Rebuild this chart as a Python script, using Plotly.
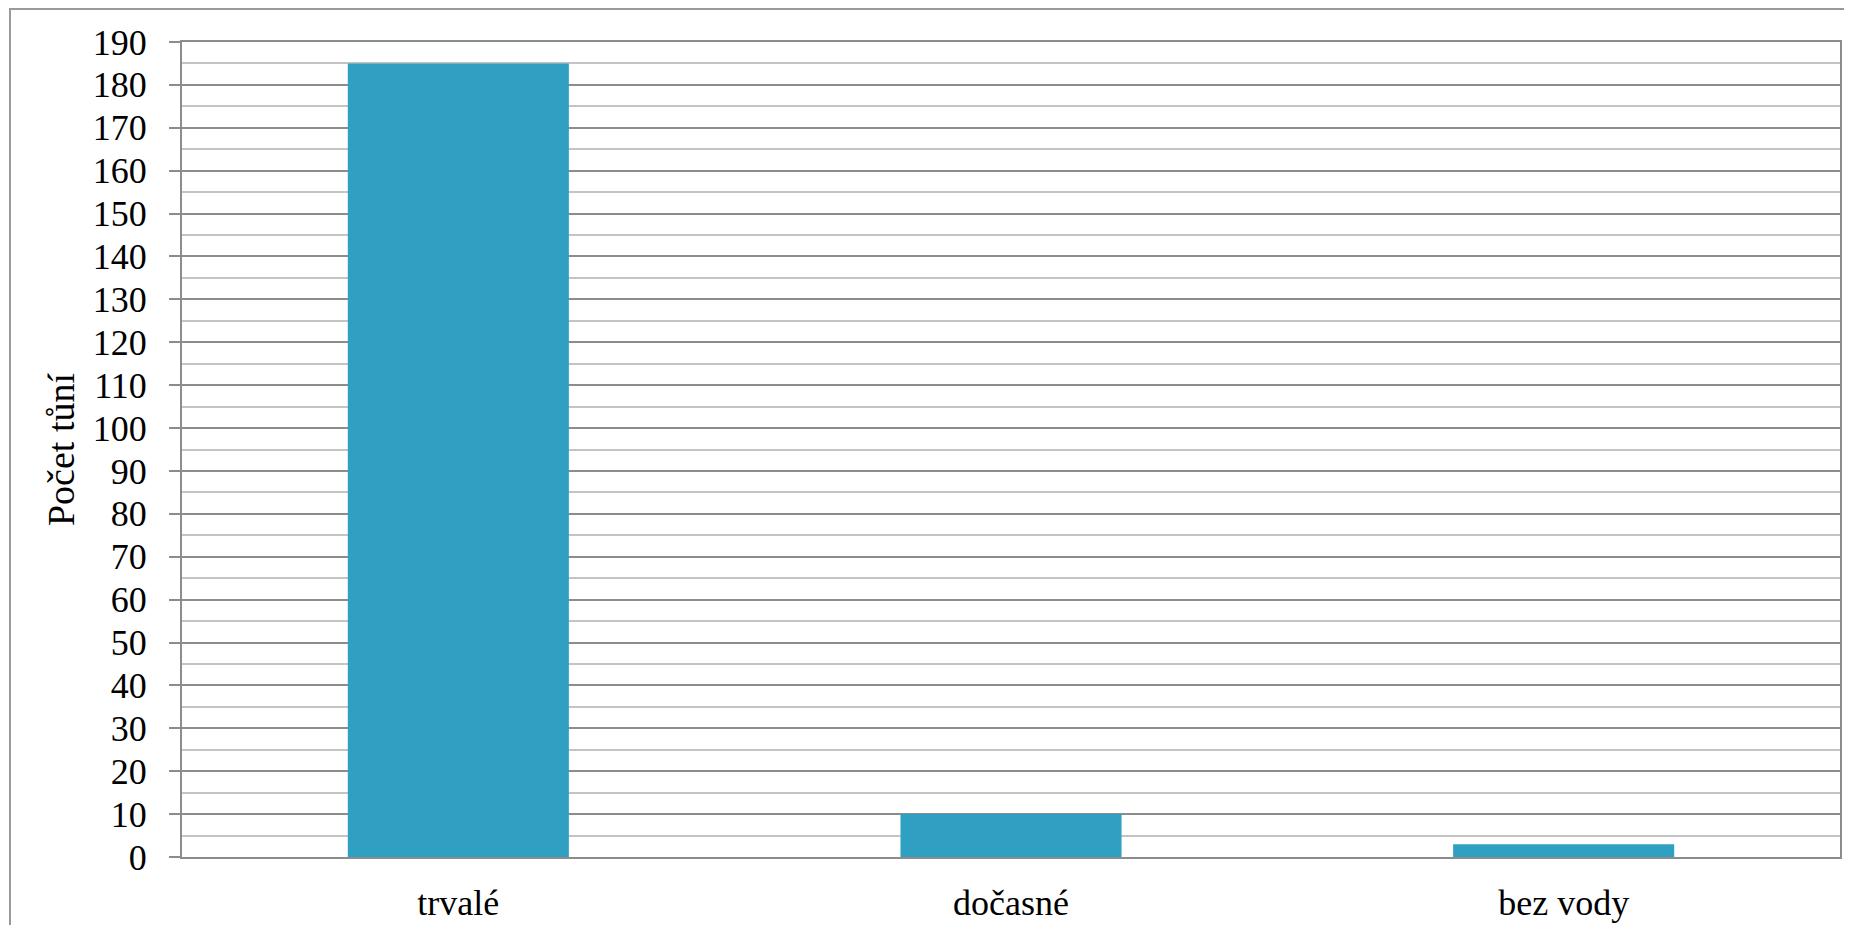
import plotly.graph_objects as go

# počet tůní podle typu
categories = ["trvalé", "dočasné", "bez vody"]
counts = [185, 10, 3]

y_ticks = list(range(0, 191, 10))

# the page body adds an 8px margin, so the figure is a little smaller
W, H = 1844, 917
L, R, T, B = 174, 12, 34, 68
pw, ph = W - L - R, H - T - B

serif = "Liberation Serif"

fig = go.Figure()
fig.add_trace(
    go.Bar(
        x=categories,
        y=counts,
        marker=dict(color="#2fa0c1", line=dict(width=0)),
        width=0.4,
    )
)

grid_major = "#8c8c8c"
grid_minor = "#c4c4c4"

fig.update_layout(
    width=W,
    height=H,
    margin=dict(l=L, r=R, t=T, b=B, autoexpand=False),
    paper_bgcolor="white",
    plot_bgcolor="white",
    showlegend=False,
    font=dict(family=serif, color="black", size=36),
    xaxis=dict(
        showgrid=False,
        showline=True,
        linecolor=grid_major,
        linewidth=2,
        mirror=True,
        ticks="",
        tickfont=dict(family=serif, size=36, color="black"),
        ticklabelstandoff=13,
    ),
    yaxis=dict(
        range=[0, 190],
        tickvals=y_ticks,
        showgrid=True,
        gridcolor=grid_major,
        gridwidth=1.5,
        minor=dict(dtick=5, tick0=0, showgrid=True, gridcolor=grid_minor, gridwidth=1.5),
        showline=True,
        linecolor=grid_major,
        linewidth=2,
        mirror=True,
        ticks="outside",
        ticklen=11,
        tickwidth=2,
        tickcolor=grid_major,
        tickfont=dict(family=serif, size=36, color="black"),
        ticklabelstandoff=15,
        zeroline=False,
        title=dict(text="Počet tůní", font=dict(family=serif, size=38), standoff=6),
        automargin=False,
    ),
)

# outer chart frame
fig.add_shape(
    type="rect",
    xref="paper",
    yref="paper",
    x0=(2 - L) / pw,
    x1=(W + 5 - L) / pw,
    y0=(H - B - (H + 5)) / ph,
    y1=(H - B - 1) / ph,
    line=dict(color="#9a9a9a", width=2),
    layer="below",
)

fig.write_html("out.html")
